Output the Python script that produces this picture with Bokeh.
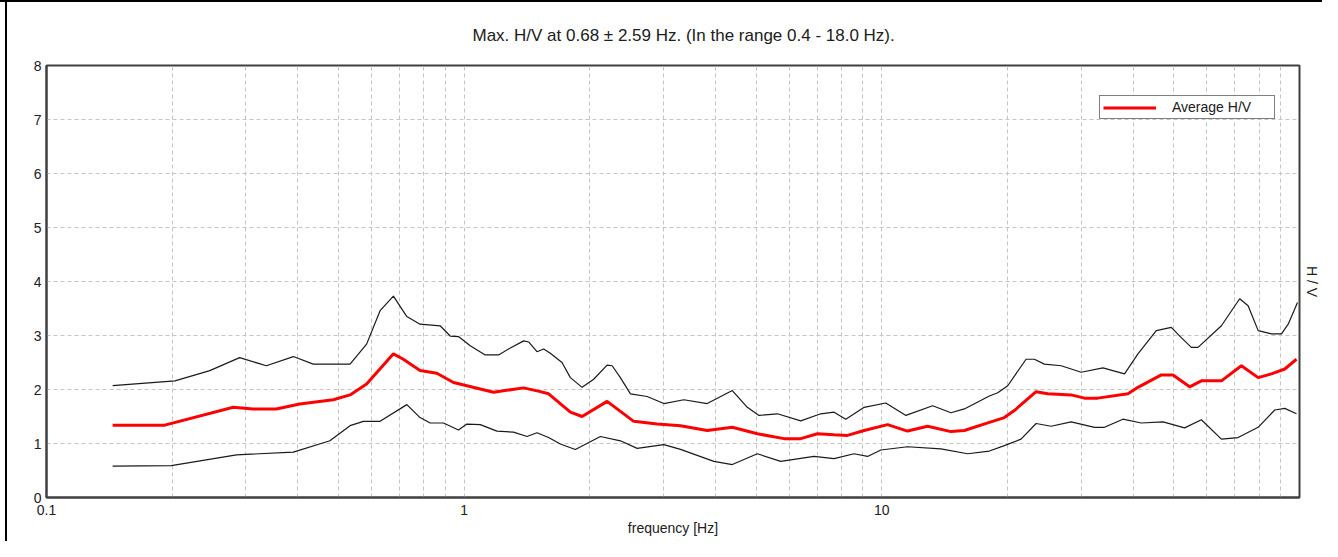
from bokeh.plotting import figure
from bokeh.models import (Range1d, FixedTicker, CustomJSTickFormatter, LinearAxis,
                          Legend, LegendItem)
from bokeh.embed import file_html
from bokeh.resources import INLINE

# ---- data ----
freq_avg = [0.144, 0.192, 0.280, 0.312, 0.355, 0.404, 0.486, 0.533, 0.584, 0.677, 0.715,
            0.784, 0.860, 0.943, 1.176, 1.388, 1.522, 1.593, 1.796, 1.916, 2.199, 2.547,
            2.898, 3.296, 3.819, 4.385, 5.035, 5.833, 6.395, 7.011, 7.685, 8.275, 9.071,
            10.32, 11.52, 12.87, 14.64, 15.76, 18.09, 19.65, 20.76, 23.41, 24.96, 28.40,
            30.56, 32.91, 38.83, 41.04, 46.69, 49.79, 54.57, 58.21, 65.02, 72.59, 79.62,
            85.68, 92.21, 98.35]
hv_avg = [1.34, 1.34, 1.67, 1.64, 1.64, 1.73, 1.81, 1.90, 2.10, 2.66, 2.56,
          2.35, 2.30, 2.13, 1.95, 2.03, 1.96, 1.92, 1.58, 1.50, 1.78, 1.41,
          1.36, 1.33, 1.24, 1.30, 1.18, 1.09, 1.09, 1.18, 1.16, 1.15, 1.24,
          1.35, 1.23, 1.32, 1.22, 1.24, 1.39, 1.48, 1.61, 1.96, 1.92, 1.90,
          1.84, 1.84, 1.92, 2.04, 2.27, 2.27, 2.05, 2.16, 2.16, 2.44, 2.22,
          2.29, 2.38, 2.56]

freq_up = [0.144, 0.203, 0.246, 0.290, 0.336, 0.390, 0.435, 0.533, 0.584, 0.629, 0.677,
           0.729, 0.784, 0.876, 0.926, 0.969, 1.034, 1.123, 1.209, 1.290, 1.388, 1.427,
           1.494, 1.550, 1.608, 1.715, 1.796, 1.916, 2.042, 2.199, 2.261, 2.366, 2.501,
           2.742, 3.006, 3.357, 3.819, 4.385, 4.764, 5.080, 5.623, 6.395, 7.141, 7.685,
           8.199, 9.071, 10.22, 11.42, 13.23, 14.64, 15.76, 18.09, 18.95, 20.02, 22.15,
           23.19, 24.50, 26.88, 30.01, 33.83, 38.11, 41.04, 45.41, 49.32, 52.12, 55.08,
           57.15, 65.02, 71.91, 75.33, 79.62, 85.68, 90.54, 93.96, 98.90]
hv_up = [2.07, 2.16, 2.35, 2.59, 2.44, 2.61, 2.47, 2.47, 2.84, 3.46, 3.73,
         3.35, 3.21, 3.18, 2.99, 2.98, 2.81, 2.64, 2.64, 2.77, 2.90, 2.88,
         2.70, 2.75, 2.67, 2.50, 2.22, 2.04, 2.19, 2.45, 2.44, 2.22, 1.92,
         1.87, 1.74, 1.81, 1.74, 1.98, 1.67, 1.52, 1.55, 1.42, 1.55, 1.58,
         1.45, 1.67, 1.75, 1.52, 1.70, 1.57, 1.64, 1.88, 1.94, 2.07, 2.56,
         2.56, 2.47, 2.44, 2.32, 2.40, 2.29, 2.66, 3.09, 3.15, 2.96, 2.78,
         2.78, 3.18, 3.68, 3.55, 3.09, 3.03, 3.03, 3.21, 3.61]

freq_lo = [0.144, 0.199, 0.285, 0.390, 0.477, 0.533, 0.574, 0.629, 0.729, 0.784, 0.829,
           0.892, 0.969, 1.015, 1.093, 1.198, 1.313, 1.414, 1.494, 1.593, 1.699, 1.846,
           2.119, 2.366, 2.595, 3.006, 3.296, 3.961, 4.385, 5.035, 5.727, 6.881, 7.685,
           8.583, 9.242, 9.945, 11.52, 13.85, 16.05, 18.09, 19.65, 21.54, 23.41, 25.42,
           28.40, 32.30, 34.13, 37.77, 41.80, 47.12, 53.08, 58.21, 65.02, 71.28, 79.62,
           87.26, 92.21, 98.35]
hv_lo = [0.58, 0.59, 0.79, 0.84, 1.05, 1.33, 1.41, 1.41, 1.72, 1.48, 1.38,
         1.38, 1.25, 1.36, 1.35, 1.23, 1.21, 1.13, 1.20, 1.11, 0.99, 0.89,
         1.13, 1.05, 0.91, 0.98, 0.89, 0.67, 0.61, 0.81, 0.67, 0.76, 0.72,
         0.81, 0.76, 0.88, 0.94, 0.90, 0.81, 0.86, 0.96, 1.08, 1.37, 1.32,
         1.40, 1.30, 1.30, 1.45, 1.38, 1.40, 1.29, 1.44, 1.08, 1.11, 1.30,
         1.62, 1.65, 1.55]

x_major = [0.1, 1, 10]
x_minor = [0.2, 0.3, 0.4, 0.5, 0.6, 0.7, 0.8, 0.9, 2, 3, 4, 5, 6, 7, 8, 9,
           20, 30, 40, 50, 60, 70, 80, 90]
y_ticks = [0, 1, 2, 3, 4, 5, 6, 7, 8]

title_text = "Max. H/V at 0.68 \u00b1 2.59 Hz. (In the range 0.4 - 18.0 Hz)."
FONT = "Liberation Sans"

p = figure(width=1322, height=541, x_axis_type="log",
           x_range=Range1d(0.1, 100), y_range=Range1d(0, 8),
           output_backend="svg", toolbar_location=None,
           min_border_left=46, min_border_right=22, min_border_top=65, min_border_bottom=44)
# thin black frame lines along the top and left of the whole picture
p.border_fill_color = None
p.styles = {"background": "linear-gradient(to bottom, black 0px, black 2px, transparent 2px), "
                          "linear-gradient(to right, white 0px, white 5px, black 5px, black 7px, white 7px)"}

p.title.text = title_text
p.title.align = "left"
p.title.offset = 426
p.title.text_font = FONT
p.title.text_font_size = "17px"
p.title.text_font_style = "normal"
p.title.text_color = "#202020"
p.title.standoff = 41

p.outline_line_color = "#404040"
p.outline_line_width = 2

# x axis
xa = p.xaxis[0]
xa.ticker = FixedTicker(ticks=x_major, minor_ticks=x_minor)
xa.formatter = CustomJSTickFormatter(code="return tick.toString();")
xa.axis_label = "frequency [Hz]"
xa.axis_label_text_font = FONT
xa.axis_label_text_font_size = "14px"
xa.axis_label_text_font_style = "normal"
xa.axis_label_text_color = "#202020"
xa.axis_label_standoff = 2
xa.major_label_text_font = FONT
xa.major_label_text_font_size = "14px"
xa.major_label_text_color = "#202020"
xa.major_label_standoff = 7
xa.major_tick_out = 0
xa.major_tick_in = 0
xa.minor_tick_out = 0
xa.minor_tick_in = 0
xa.major_tick_line_color = None
xa.minor_tick_line_color = None
xa.axis_line_color = "#404040"
xa.axis_line_width = 2

# y axis
ya = p.yaxis[0]
ya.ticker = FixedTicker(ticks=y_ticks)
ya.major_label_text_font = FONT
ya.major_label_text_font_size = "14px"
ya.major_label_text_color = "#202020"
ya.major_label_standoff = 5
ya.major_tick_out = 0
ya.major_tick_in = 0
ya.minor_tick_out = 0
ya.minor_tick_in = 0
ya.major_tick_line_color = None
ya.minor_tick_line_color = None
ya.axis_line_color = "#404040"
ya.axis_line_width = 2

# right axis label
ra = LinearAxis(axis_label="H / V", axis_label_text_font=FONT,
                axis_label_text_font_size="14px", axis_label_text_font_style="normal",
                axis_label_text_color="#202020", axis_label_standoff=4,
                major_label_text_font_size="0px", major_tick_line_color=None,
                minor_tick_line_color=None, axis_line_color=None,
                ticker=FixedTicker(ticks=[]))
p.add_layout(ra, "right")

# grids
for g in (p.xgrid[0], p.ygrid[0]):
    g.grid_line_color = "#c4c4c4"
    g.grid_line_dash = "4 3"
    g.grid_line_width = 1
p.xgrid[0].minor_grid_line_color = "#c4c4c4"
p.xgrid[0].minor_grid_line_dash = "4 3"

# curves
p.line(freq_up, hv_up, line_color="#1a1a1a", line_width=1.2)
p.line(freq_lo, hv_lo, line_color="#1a1a1a", line_width=1.2)
r_avg = p.line(freq_avg, hv_avg, line_color="#ff0000", line_width=3)

legend = Legend(items=[LegendItem(label="Average H/V", renderers=[r_avg])],
                location=(1053, 378), border_line_color="black", border_line_width=1,
                padding=3, margin=0, spacing=0, glyph_width=53, glyph_height=15,
                label_height=15, label_width=99, label_standoff=16, label_text_font=FONT,
                label_text_font_size="14px", label_text_color="#202020",
                background_fill_color="white", background_fill_alpha=1)
p.add_layout(legend, "center")

open("out.html", "w").write(file_html(p, INLINE))
